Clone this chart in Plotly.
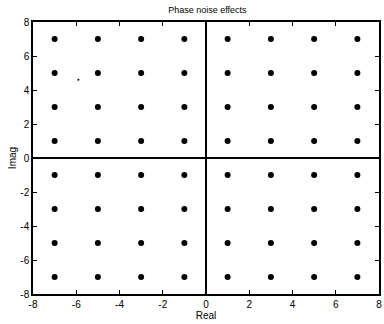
import plotly.graph_objects as go

# 64-QAM constellation levels (received with phase noise)
levels = [-7, -5, -3, -1, 1, 3, 5, 7]
real_vals = [x for y in levels for x in levels]
imag_vals = [y for y in levels for x in levels]

# a couple of stray samples visible in the scan
stray_real = [-5.9]
stray_imag = [4.6]

ticks = [-8, -6, -4, -2, 0, 2, 4, 6, 8]

fig = go.Figure()
fig.add_trace(go.Scatter(
    x=real_vals, y=imag_vals, mode="markers",
    marker=dict(color="black", size=6, line=dict(width=0)),
    showlegend=False, hoverinfo="skip"))
fig.add_trace(go.Scatter(
    x=stray_real, y=stray_imag, mode="markers",
    marker=dict(color="black", size=2, line=dict(width=0)),
    showlegend=False, hoverinfo="skip"))

axis_common = dict(
    range=[-8, 8], tickvals=ticks, ticktext=[str(t) for t in ticks],
    ticks="inside", ticklen=4, tickcolor="black", tickwidth=1,
    showline=True, linecolor="black", linewidth=1.5, mirror="ticks",
    showgrid=False, zeroline=True, zerolinecolor="black", zerolinewidth=1.5,
    tickfont=dict(family="Liberation Sans", size=10, color="black"),
    fixedrange=True,
)

fig.update_layout(
    width=384, height=324,
    margin=dict(l=33, r=3, t=22, b=30),
    paper_bgcolor="white", plot_bgcolor="white",
    title=dict(text="Phase noise effects", x=0.54, xanchor="center", y=0.97, yanchor="middle",
               font=dict(family="Liberation Sans", size=9, color="black")),
    xaxis=dict(axis_common, title=dict(text="Real", standoff=2,
               font=dict(family="Liberation Sans", size=10, color="black"))),
    yaxis=dict(axis_common, title=dict(text="Imag", standoff=2,
               font=dict(family="Liberation Sans", size=10, color="black"))),
)

fig.write_html("out.html")
